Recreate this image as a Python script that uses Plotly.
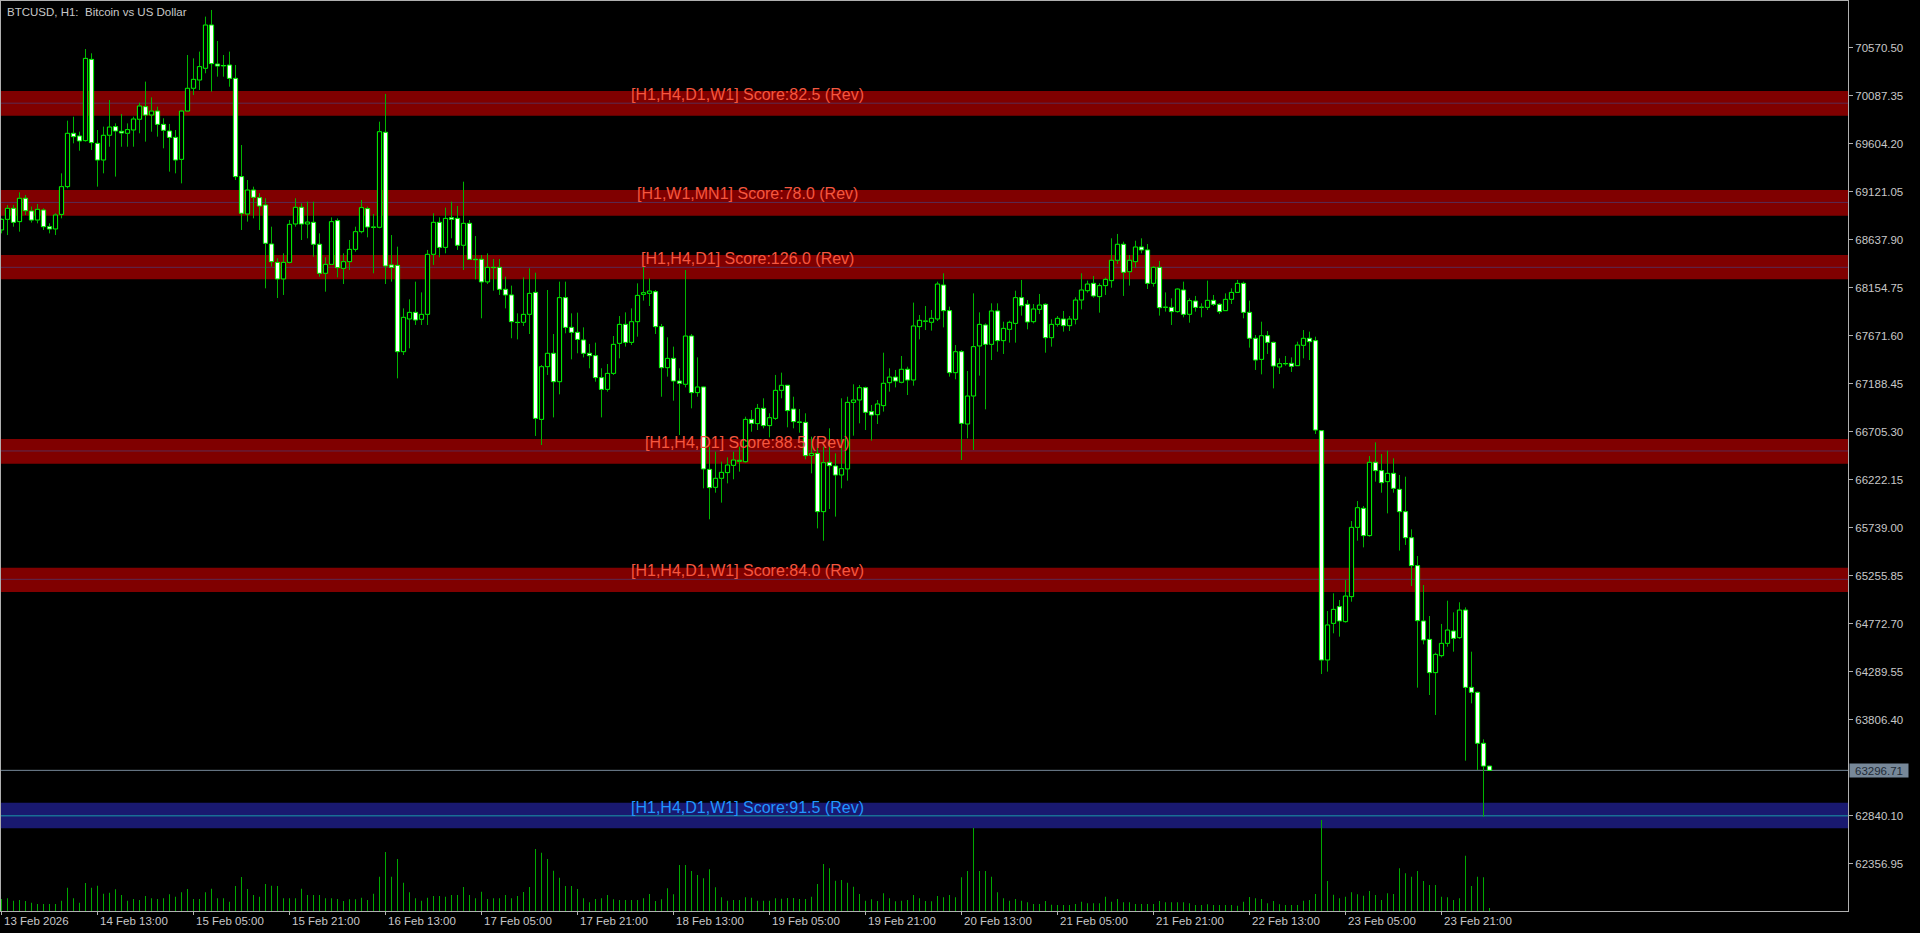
import plotly.graph_objects as go

# ---------------- data ----------------
opens = [68735,68842,68953,68819,69054,68926,68835,68936,68768,68745,68892,69171,69708,69681,69634,70452,69607,69439,69688,69775,
69728,69708,69741,69849,69976,69892,69932,69798,69731,69667,69446,69932,70161,70244,70362,70798,70405,70390,70395,70261,
69272,68896,69137,69060,68986,68594,68409,68242,68409,68795,68963,68795,68812,68591,68299,68389,68829,68349,68416,68540,
68718,68950,68765,68762,69718,68383,68379,67510,67839,67906,67836,67886,68490,68812,68560,68859,68852,68581,68802,68440,
68440,68212,68359,68359,68138,68081,67806,67806,67886,68107,66829,67359,67494,67208,68054,67755,67705,67628,67494,67470,
67249,67131,67292,67594,67785,67604,67812,68087,68097,68114,67762,67349,67443,67215,67182,67668,67098,67155,66326,66145,
66236,66293,66366,66407,66403,66829,66786,66940,66766,66839,67121,67172,66933,66803,66799,66467,66487,65900,66397,66360,
66269,66330,67000,67024,67148,66907,66876,66967,67198,67255,67202,67333,67225,67762,67816,67806,67839,68181,67923,67299,
67510,66782,67064,67567,67779,67584,67920,67621,67735,67795,68054,67987,67812,67936,67987,67651,67785,67839,67772,67836,
68030,68124,68198,68064,68175,68225,68430,68591,68315,68416,68564,68534,68198,68359,67956,67956,67913,68131,67886,68020,
67956,67956,68027,67987,67923,68037,68107,68198,67906,67645,67433,67671,67604,67356,67390,67393,67369,67574,67645,67621,
66715,64407,64776,64944,64793,65045,65742,65934,65659,66397,66313,66202,66286,66125,65900,65638,65357,64800,64615,64280,
64451,64575,64699,64632,64910,64132,64082,63569,63340]
highs = [68852,68986,68986,69114,69087,68970,68996,68953,68802,68903,69305,69835,69875,69724,70556,70513,69741,69775,70043,69808,
69902,69808,69875,70016,70228,70070,69976,69859,69802,69741,69943,70496,70462,70530,70882,70949,70637,70496,70530,70395,
69590,69238,69171,69104,69054,68768,68450,68500,68835,69054,69003,69020,69020,68701,68460,68862,68852,68500,68634,68768,
69037,68970,68896,69825,70104,68684,68567,67946,68037,68215,68107,68534,68903,68862,68960,69020,68976,69221,68835,68674,
68483,68500,68443,68443,68265,68175,67896,68258,68349,68305,67376,68131,67688,68215,68215,67896,67903,67755,67588,67601,
67343,67386,67668,67869,67906,67946,68198,68366,68248,68131,67789,67655,67561,67343,68332,67688,67453,67158,66554,66504,
66403,66447,66504,66554,66856,66923,66984,67041,66890,67276,67299,67175,67057,66933,66890,66655,66571,66554,66739,66487,
67041,67057,67182,67175,67158,66974,67024,67500,67343,67326,67467,67359,68004,67879,67970,67930,68215,68299,67963,67577,
67527,67316,68097,67906,67795,67997,67997,67812,67822,68124,68232,68030,67990,68091,67997,67836,67869,67920,67869,68057,
68299,68225,68272,68198,68255,68651,68695,68617,68483,68627,68651,68594,68372,68423,68107,68047,68148,68215,68047,68071,
67997,68225,68081,67997,68097,68148,68232,68215,68024,67678,67812,67718,67611,67443,67467,67453,67611,67728,67712,67661,
66722,64900,65078,65011,65212,65806,66007,65957,66460,66598,66480,66514,66437,66269,66252,65722,65454,65162,64850,64481,
64770,65004,64887,64988,64937,64491,64089,63609,63340]
lows = [68701,68684,68768,68718,68886,68809,68802,68735,68701,68684,68852,69154,69607,69533,69624,69540,69171,69305,69573,69272,
69573,69573,69573,69708,69624,69724,69674,69557,69322,69305,69204,69926,70093,70144,70312,70127,70278,70278,70177,69238,
68735,68819,68852,68735,68148,68366,68050,68081,68399,68768,68634,68651,68466,68265,68114,68383,68258,68191,68332,68517,
68701,68661,68299,68752,68191,68215,67242,67477,67544,67779,67779,67779,68383,68460,68500,68651,68534,68332,68433,68238,
67846,68191,68124,68081,67946,67645,67634,67769,67688,66662,66571,67276,66849,67081,67695,67433,67494,67453,67343,67208,
66849,67108,67276,67443,67561,67577,67661,68024,67970,67688,67057,67259,67017,66672,67151,66940,67057,66135,65823,66091,
65991,66185,66226,66303,66393,66705,66722,66739,66648,66823,67041,66749,66739,66695,66427,66286,65732,65608,65927,65850,
66135,66212,66665,66789,66722,66615,66782,66907,67108,67151,67192,67074,67168,67634,67728,67722,67819,67755,67259,67232,
66420,66638,66521,67269,66930,67426,67510,67487,67601,67601,67873,67735,67795,67889,67500,67561,67762,67712,67718,67785,
67936,68104,68054,67903,68081,68154,68393,68071,68175,68356,68500,68141,68165,67873,67913,67779,67903,67856,67802,67913,
67856,67930,67970,67889,67920,67990,68104,67846,67551,67326,67282,67487,67141,67286,67369,67306,67369,67443,67426,66682,
64266,64290,64676,64642,64783,64994,65608,65541,65648,66202,66091,65883,66091,65508,65565,65152,64129,64565,64055,63854,
64434,64541,64491,64619,63394,63971,63300,62831,63297]
closes = [68842,68953,68812,69054,68929,68835,68943,68768,68745,68886,69171,69708,69674,69631,70462,69614,69439,69688,69771,69731,
69711,69745,69852,69983,69892,69932,69798,69738,69667,69439,69932,70161,70251,70379,70798,70409,70385,70386,70261,69272,
68903,69137,69064,68976,68601,68416,68242,68409,68792,68963,68795,68815,68591,68299,68389,68819,68356,68416,68540,68718,
68960,68765,68762,69724,68373,68359,67510,67856,67906,67829,67886,68490,68812,68560,68852,68842,68581,68802,68440,68436,
68212,68359,68356,68138,68081,67812,67803,67886,68097,66839,67359,67494,67208,68054,67755,67705,67634,67494,67470,67249,
67131,67292,67584,67785,67604,67812,68077,68104,68121,67762,67349,67443,67215,67192,67668,67098,67155,66330,66142,66236,
66296,66370,66420,66417,66829,66789,66940,66766,66846,67121,67172,66917,66806,66799,66464,66487,65900,66393,66363,66269,
66333,67000,67024,67148,66900,66873,66984,67192,67255,67215,67333,67225,67769,67826,67818,67846,68191,67923,67299,67510,
66789,67064,67561,67785,67584,67920,67621,67745,67806,68054,67973,67809,67940,67980,67651,67785,67846,67772,67839,68030,
68131,68191,68071,68175,68238,68430,68591,68309,68430,68564,68534,68198,68359,67953,67958,67913,68141,67886,68024,67956,
67958,68027,67987,67913,68037,68107,68198,67906,67645,67426,67671,67604,67366,67390,67388,67363,67577,67645,67611,66722,
64407,64760,64917,64800,65051,65742,65940,65659,66397,66313,66192,66286,66135,65900,65638,65357,64803,64609,64280,64464,
64575,64709,64625,64910,64132,64082,63569,63340,63296.71]
volumes = [120,127,103,110,100,83,70,70,70,70,103,233,127,83,280,233,253,173,183,217,
160,103,120,110,150,127,120,127,167,143,187,220,120,120,187,223,127,127,93,250,
340,220,160,143,270,253,250,127,127,127,223,160,160,160,127,127,120,100,117,117,
133,110,173,343,590,343,520,283,187,127,103,133,150,150,143,160,160,240,160,127,
193,120,127,127,160,127,150,190,240,620,583,520,403,333,250,250,220,127,87,120,
127,160,117,110,110,110,110,127,170,100,117,227,167,460,460,400,360,327,417,237,
137,103,110,110,137,133,103,103,103,127,123,130,130,120,120,143,270,470,427,303,
310,283,243,170,103,117,100,177,127,97,103,110,160,127,100,97,150,137,160,137,
337,400,830,400,400,343,187,127,103,120,103,87,70,70,100,63,60,60,60,70,
93,77,77,77,143,93,120,87,87,70,70,70,70,100,87,87,87,87,77,60,
60,67,60,60,60,60,53,93,140,127,120,77,100,67,60,60,60,103,110,170,
910,300,163,127,143,187,167,153,200,160,110,177,170,427,377,343,400,300,260,260,
143,137,110,127,553,250,343,337,30]

tick_bars = [0,16,32,48,64,80,96,112,128,144,160,176,192,208,224,240]
tick_texts = ["13 Feb 2026","14 Feb 13:00","15 Feb 05:00","15 Feb 21:00","16 Feb 13:00","17 Feb 05:00",
              "17 Feb 21:00","18 Feb 13:00","19 Feb 05:00","19 Feb 21:00","20 Feb 13:00","21 Feb 05:00",
              "21 Feb 21:00","22 Feb 13:00","23 Feb 05:00","23 Feb 21:00"]
price_ticks = [70570.50,70087.35,69604.20,69121.05,68637.90,68154.75,67671.60,67188.45,66705.30,
               66222.15,65739.00,65255.85,64772.70,64289.55,63806.40,62840.10,62356.95]
price_tick_texts = ["70570.50","70087.35","69604.20","69121.05","68637.90","68154.75","67671.60","67188.45",
                    "66705.30","66222.15","65739.00","65255.85","64772.70","64289.55","63806.40","62840.10","62356.95"]

zone_lo = [69885, 68879, 68239, 66382, 65092, 62714]
zone_hi = [70134, 69137, 68483, 66631, 65336, 62971]
zone_mid = [70011, 69012, 68359, 66511, 65219, 62839]
zone_labels = ["[H1,H4,D1,W1] Score:82.5 (Rev)", "[H1,W1,MN1] Score:78.0 (Rev)", "[H1,H4,D1] Score:126.0 (Rev)",
               "[H1,H4,D1] Score:88.5 (Rev)", "[H1,H4,D1,W1] Score:84.0 (Rev)", "[H1,H4,D1,W1] Score:91.5 (Rev)"]
zone_kind = ["res", "res", "res", "res", "res", "sup"]
label_bar = 124.4

bid_price = 63296.71
chart_title = "BTCUSD, H1:\u00a0 Bitcoin vs US Dollar"

# ---------------- styles ----------------
OUTLINE = "#00ff00"
WICK = "#00b400"
VOL_GREEN = "#00a800"
AXIS_TXT = "#c8c8c8"
FRAME = "#b0b0b0"
FONT = "Liberation Sans"
zone_fill = {"res": "#800000", "sup": "#191970"}
zone_line = {"res": "#5a2a52", "sup": "#1a9aa8"}
zone_txt = {"res": "#f5573f", "sup": "#2196ff"}

n = len(opens)
x = list(range(n))

# wicks split above / below the body so they never cross the body fill
wx, wy = [], []
for i in range(n):
    top = max(opens[i], closes[i])
    bot = min(opens[i], closes[i])
    wx += [i, i, None, i, i, None]
    wy += [highs[i], top, None, bot, lows[i], None]

bull = [i for i in range(n) if closes[i] >= opens[i]]
bear = [i for i in range(n) if closes[i] < opens[i]]
MIN_BODY = 3

def body(idx):
    return ([x[i] for i in idx],
            [min(opens[i], closes[i]) for i in idx],
            [max(abs(closes[i] - opens[i]), MIN_BODY) for i in idx])

fig = go.Figure()
fig.add_trace(go.Scatter(x=wx, y=wy, mode="lines", line=dict(color=WICK, width=1),
                         hoverinfo="skip", showlegend=False, connectgaps=False))
bx, bb, bh = body(bull)
fig.add_trace(go.Bar(x=bx, base=bb, y=bh, width=0.7, marker=dict(color="#000000", line=dict(color=OUTLINE, width=1)),
                     hoverinfo="skip", showlegend=False))
sx, sb, sh = body(bear)
fig.add_trace(go.Bar(x=sx, base=sb, y=sh, width=0.7, marker=dict(color="#ffffff", line=dict(color=OUTLINE, width=1)),
                     hoverinfo="skip", showlegend=False))
fig.add_trace(go.Bar(x=x, y=volumes, width=1 / 6, marker=dict(color=VOL_GREEN, line=dict(width=0)),
                     yaxis="y2", hoverinfo="skip", showlegend=False))

shapes = []
annotations = []
for lo, hi, mid, kind, txt in zip(zone_lo, zone_hi, zone_mid, zone_kind, zone_labels):
    shapes.append(dict(type="rect", xref="paper", x0=0, x1=1, yref="y", y0=lo, y1=hi,
                       fillcolor=zone_fill[kind], line=dict(width=0), layer="below"))
    shapes.append(dict(type="line", xref="paper", x0=0, x1=1, yref="y", y0=mid, y1=mid,
                       line=dict(color=zone_line[kind], width=1), layer="below"))
    annotations.append(dict(x=label_bar, y=mid, xref="x", yref="y", text=txt, showarrow=False,
                            xanchor="center", yanchor="bottom", yshift=-2,
                            font=dict(family=FONT, size=16, color=zone_txt[kind])))

shapes.append(dict(type="line", xref="paper", x0=0, x1=1, yref="y", y0=bid_price, y1=bid_price,
                   line=dict(color="#778899", width=1), layer="below"))
annotations.append(dict(x=1, xref="paper", y=bid_price, yref="y", text=f"{bid_price:.2f}", showarrow=False,
                        xanchor="left", yanchor="middle", xshift=1, bgcolor="#778899", borderpad=0,
                        width=58, height=13, font=dict(family=FONT, size=11.5, color="#1e2a36")))

for b, t in zip(tick_bars, tick_texts):
    annotations.append(dict(x=b, xref="x", y=0, yref="paper", text=t, showarrow=False,
                            xanchor="left", yanchor="top", yshift=-2,
                            font=dict(family=FONT, size=11.5, color=AXIS_TXT)))

annotations.append(dict(x=0, xref="paper", y=1, yref="paper", text=chart_title, showarrow=False,
                        xanchor="left", yanchor="top", xshift=4, yshift=-3,
                        font=dict(family=FONT, size=11.5, color=AXIS_TXT)))

fig.update_layout(
    width=1920, height=933,
    paper_bgcolor="#000000", plot_bgcolor="#000000",
    margin=dict(l=1, r=72, t=1, b=22, autoexpand=False),
    showlegend=False,
    barmode="overlay",
    shapes=shapes, annotations=annotations,
    xaxis=dict(range=[-0.0833, 307.75], showgrid=False, zeroline=False,
               tickmode="array", tickvals=tick_bars, showticklabels=False,
               ticks="outside", ticklen=3, tickcolor=FRAME,
               showline=True, linecolor=FRAME, linewidth=1, mirror=True),
    yaxis=dict(range=[61881.2, 71039.4], side="right", showgrid=False, zeroline=False,
               tickmode="array", tickvals=price_ticks, ticktext=price_tick_texts,
               ticks="outside", ticklen=4, tickcolor=FRAME,
               tickfont=dict(family=FONT, size=11.5, color=AXIS_TXT),
               showline=True, linecolor=FRAME, linewidth=1, mirror=True),
    yaxis2=dict(range=[0, 9100], overlaying="y", visible=False, fixedrange=True),
    hovermode=False,
)

fig.write_html("out.html", config={"displayModeBar": False},
               post_script="document.body.style.margin='0';")
